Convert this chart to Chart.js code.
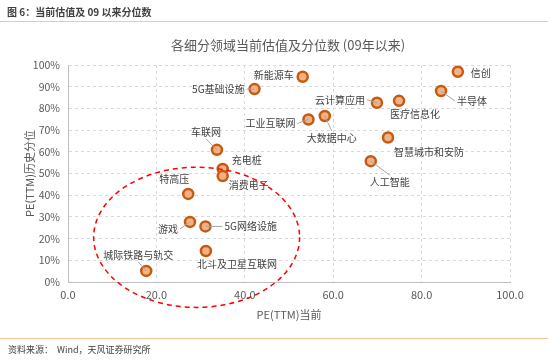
<!DOCTYPE html>
<html>
<head>
<meta charset="utf-8">
<script src="https://cdn.jsdelivr.net/npm/chart.js@4"></script>
<style>
  html, body { margin: 0; padding: 0; background: #fff; }
  #wrap { position: relative; width: 550px; height: 362px; overflow: hidden; font-family: "Noto Sans CJK SC", sans-serif; }
  #wrap canvas { position: absolute; left: 0; top: 0; }
  .head { position: absolute; left: 7px; top: 4px; font-size: 10px; font-weight: bold; color: #404040; }
  .headline { position: absolute; left: 0; top: 21px; width: 548px; height: 1px; background: #f9c79b; }
  .footline { position: absolute; left: 0; top: 338px; width: 548px; height: 1px; background: #f9c79b; }
  .foot { position: absolute; left: 8px; top: 343px; font-size: 9px; color: #404040; }
</style>
</head>
<body>
<div id="wrap">
  <canvas id="chart" width="550" height="362"></canvas>
  <div class="head">图 6：当前估值及 09 以来分位数</div>
  <div class="headline"></div>
  <div class="footline"></div>
  <div class="foot">资料来源： &nbsp;Wind，天风证券研究所</div>
</div>
<script>
// sectors, current PE(TTM), historical percentile since 2009 (%)
const sectors = ["信创", "半导体", "医疗信息化", "云计算应用", "新能源车", "5G基础设施",
  "工业互联网", "大数据中心", "智慧城市和安防", "人工智能", "车联网", "充电桩", "消费电子",
  "特高压", "游戏", "5G网络设施", "北斗及卫星互联网", "城际铁路与轨交"];
const peNow = [88.2, 84.4, 74.9, 69.9, 53.1, 42.2, 54.4, 58.1, 72.4, 68.5, 33.7, 35.0, 35.0,
  27.2, 27.6, 31.1, 31.2, 17.7];
const pctHist = [96.9, 88.0, 83.5, 82.6, 94.6, 88.9, 74.9, 76.5, 66.6, 55.7, 60.9, 52.1, 48.8,
  40.6, 27.7, 25.6, 14.3, 5.1];

const xMin = 0, xMax = 100, xStep = 20;
const yMin = 0, yMax = 100, yStep = 10;

// highlighted group (ellipse): centre and radii in data units
const ringCentre = [29.1, 20.6];
const ringRadius = [23.3, 32.3];

// label placement: [dx, dy, align, leader]
const labelPos = {
  "信创": [13, 1, "left", false],
  "半导体": [16, 10, "left", true],
  "医疗信息化": [16, 13, "center", false],
  "云计算应用": [-12, -3, "right", true],
  "新能源车": [-9, -2, "right", false],
  "5G基础设施": [-10, 0, "right", true],
  "工业互联网": [-13, 4, "right", true],
  "大数据中心": [7, 22, "center", true],
  "智慧城市和安防": [41, 15, "center", false],
  "人工智能": [19, 21, "center", true],
  "车联网": [-11, -18, "center", true],
  "充电桩": [9, -9, "left", false],
  "消费电子": [26, 9, "center", false],
  "特高压": [-14, -15, "center", false],
  "游戏": [-12, 7, "right", true],
  "5G网络设施": [19, 0, "left", true],
  "北斗及卫星互联网": [31, 13, "center", false],
  "城际铁路与轨交": [-8, -16, "center", true]
};

const FONT = '"Noto Sans CJK SC", sans-serif';

const decor = {
  id: "decor",
  afterDatasetsDraw(chart) {
    const c = chart.ctx, xs = chart.scales.x, ys = chart.scales.y;
    const meta = chart.getDatasetMeta(0);
    c.save();
    c.font = "10px " + FONT;
    c.textBaseline = "middle";
    meta.data.forEach((pt, i) => {
      const name = sectors[i];
      const [dx, dy, align, leader] = labelPos[name];
      const tx = pt.x + dx, ty = pt.y + dy;
      if (leader) {
        let ex, ey;
        if (align === "right") { ex = tx + 2; ey = ty; }
        else if (align === "left") { ex = tx - 2; ey = ty; }
        else { ex = tx; ey = ty + (dy > 0 ? -7 : 7); }
        c.strokeStyle = "#a6a6a6";
        c.lineWidth = 1;
        c.beginPath();
        c.moveTo(pt.x, pt.y);
        c.lineTo(ex, ey);
        c.stroke();
      }
      c.fillStyle = "#404040";
      c.textAlign = align;
      c.fillText(name, tx, ty);
    });
    // dashed ellipse
    const cx = xs.getPixelForValue(ringCentre[0]);
    const cy = ys.getPixelForValue(ringCentre[1]);
    const rx = xs.getPixelForValue(ringCentre[0] + ringRadius[0]) - cx;
    const ry = cy - ys.getPixelForValue(ringCentre[1] + ringRadius[1]);
    c.strokeStyle = "#ff0000";
    c.lineWidth = 1.5;
    c.setLineDash([5, 4]);
    c.beginPath();
    c.ellipse(cx, cy, rx, ry, 0, 0, Math.PI * 2);
    c.stroke();
    c.setLineDash([]);
    // titles
    c.fillStyle = "#595959";
    c.textAlign = "center";
    c.font = "13px " + FONT;
    c.fillText("各细分领域当前估值及分位数 (09年以来)", 288, 45);
    c.font = "11px " + FONT;
    c.fillText("PE(TTM)当前", (chart.chartArea.left + chart.chartArea.right) / 2, 315);
    c.translate(30, (chart.chartArea.top + chart.chartArea.bottom) / 2);
    c.rotate(-Math.PI / 2);
    c.fillText("PE(TTM)历史分位", 0, 0);
    c.restore();
  }
};

new Chart(document.getElementById("chart"), {
  type: "scatter",
  data: {
    datasets: [{
      data: peNow.map((v, i) => ({ x: v, y: pctHist[i] })),
      backgroundColor: "#f4b183",
      borderColor: "#c55a11",
      borderWidth: 2.5,
      pointRadius: 5,
      pointHoverRadius: 5
    }]
  },
  options: {
    responsive: false,
    animation: false,
    layout: { padding: { top: 65, right: 40, left: 0, bottom: 0 } },
    plugins: { legend: { display: false }, tooltip: { enabled: false } },
    scales: {
      x: {
        type: "linear", min: xMin, max: xMax,
        afterFit(s) { s.height = 80; },
        ticks: { stepSize: xStep, color: "#595959", font: { size: 11, family: FONT }, padding: 6,
          callback: v => v.toFixed(1) },
        grid: { color: "#d9d9d9", drawTicks: false },
        border: { color: "#bfbfbf", dash: [3, 3] }
      },
      y: {
        type: "linear", min: yMin, max: yMax,
        afterFit(s) { s.width = 68; },
        ticks: { stepSize: yStep, color: "#595959", font: { size: 10.5, family: FONT }, padding: 8,
          callback: v => v + "%" },
        grid: { color: "#d9d9d9", drawTicks: false },
        border: { color: "#bfbfbf", dash: [3, 3] }
      }
    }
  },
  plugins: [decor]
});
</script>
</body>
</html>
